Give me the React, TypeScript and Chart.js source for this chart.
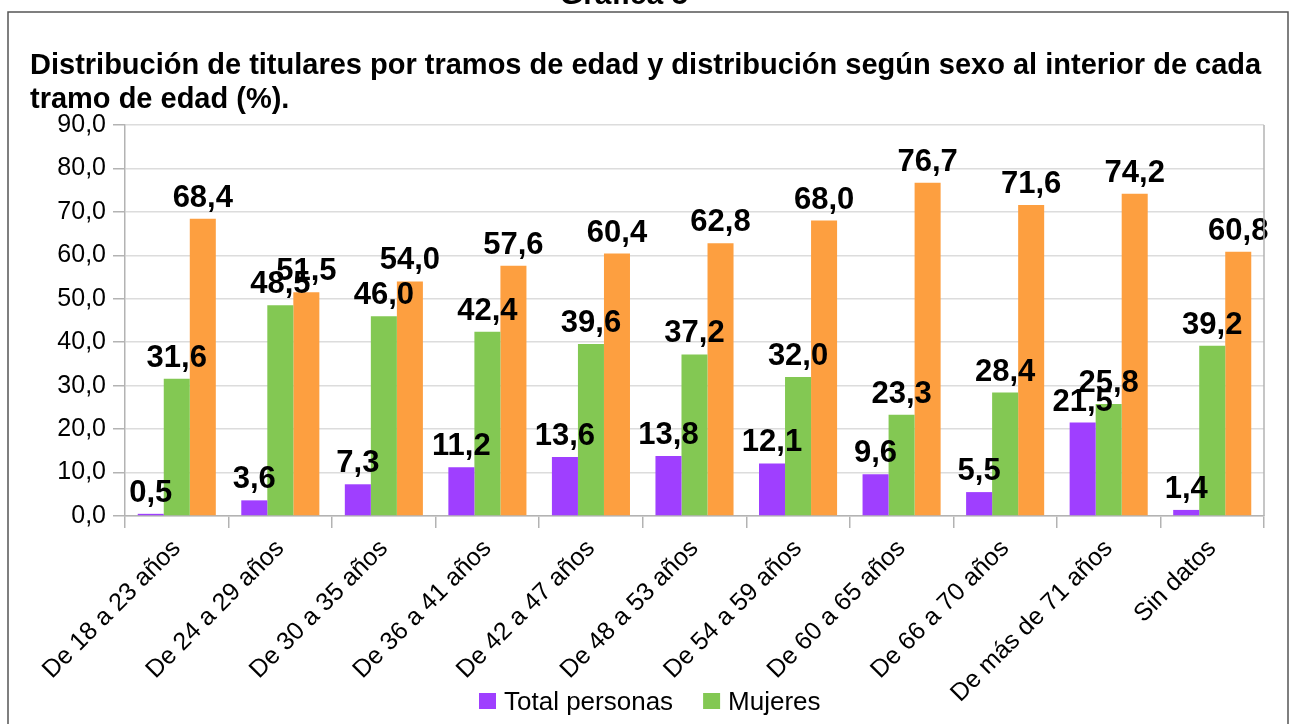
import React, { useEffect, useRef } from "react";
import { Chart, registerables } from "chart.js";

Chart.register(...registerables);

const categories = [
  "De 18 a 23 años",
  "De 24 a 29 años",
  "De 30 a 35 años",
  "De 36 a 41 años",
  "De 42 a 47 años",
  "De 48 a 53 años",
  "De 54 a 59 años",
  "De 60 a 65 años",
  "De 66 a 70 años",
  "De más de 71 años",
  "Sin datos",
];
const totalPersonas = [0.5, 3.6, 7.3, 11.2, 13.6, 13.8, 12.1, 9.6, 5.5, 21.5, 1.4];
const mujeres = [31.6, 48.5, 46.0, 42.4, 39.6, 37.2, 32.0, 23.3, 28.4, 25.8, 39.2];
const hombres = [68.4, 51.5, 54.0, 57.6, 60.4, 62.8, 68.0, 76.7, 71.6, 74.2, 60.8];
const seriesNames = ["Total personas", "Mujeres", "Hombres"];
const seriesColors = ["#9f3fff", "#83c853", "#fd9f40"];
const pageTitle = "Gráfica 5";
const titleLines = [
  "Distribución de titulares por tramos de edad y distribución según sexo al interior de cada",
  "tramo de edad (%).",
];

const FONT = "'Liberation Sans', Arial, sans-serif";
const fmt = (v: number) => v.toFixed(1).replace(".", ",");

const decoPlugin = {
  id: "deco",
  beforeDraw(chart: any) {
    const ctx = chart.ctx;
    ctx.save();
    ctx.fillStyle = "#ffffff";
    ctx.fillRect(0, 0, chart.width, chart.height);
    ctx.restore();
  },
  afterDatasetsDraw(chart: any) {
    const ctx = chart.ctx;
    ctx.save();
    ctx.font = `bold 31px ${FONT}`;
    ctx.fillStyle = "#000";
    ctx.textAlign = "center";
    ctx.textBaseline = "alphabetic";
    chart.data.datasets.forEach((ds: any, di: number) => {
      const meta = chart.getDatasetMeta(di);
      meta.data.forEach((bar: any, i: number) => {
        ctx.fillText(fmt(ds.data[i]), bar.x, bar.y - 12);
      });
    });
    ctx.restore();
  },
  afterDraw(chart: any) {
    const ctx = chart.ctx;
    const area = chart.chartArea;
    ctx.save();
    ctx.strokeStyle = "#b3b3b3";
    ctx.lineWidth = 1.5;
    ctx.beginPath();
    ctx.moveTo(area.right, area.top);
    ctx.lineTo(area.right, area.bottom);
    ctx.stroke();
    ctx.strokeStyle = "#555";
    ctx.lineWidth = 1.5;
    ctx.strokeRect(8, 12, 1280, 800);
    ctx.fillStyle = "#000";
    ctx.font = `bold 30px ${FONT}`;
    ctx.textAlign = "center";
    ctx.fillText(pageTitle, 624, 4);
    ctx.textAlign = "left";
    ctx.font = `bold 29px ${FONT}`;
    ctx.fillText(titleLines[0], 30, 74);
    ctx.fillText(titleLines[1], 30, 108);
    ctx.font = `26px ${FONT}`;
    let x = 479;
    for (let k = 0; k < 2; k++) {
      ctx.fillStyle = seriesColors[k];
      ctx.fillRect(x, 693, 17, 16);
      ctx.fillStyle = "#000";
      ctx.fillText(seriesNames[k], x + 25, 710);
      x += 25 + ctx.measureText(seriesNames[k]).width + 30;
    }
    ctx.restore();
  },
};

export default function App() {
  const ref = useRef<HTMLCanvasElement>(null);
  useEffect(() => {
    if (!ref.current) return;
    const chart = new Chart(ref.current, {
      type: "bar",
      data: {
        labels: categories,
        datasets: [totalPersonas, mujeres, hombres].map((d, i) => ({
          label: seriesNames[i],
          data: d,
          backgroundColor: seriesColors[i],
          borderWidth: 0,
          categoryPercentage: 0.754,
          barPercentage: 1.0,
        })),
      },
      options: {
        responsive: false,
        animation: false,
        layout: { padding: { top: 125, right: 31, left: 0, bottom: 0 } },
        plugins: {
          legend: { display: false },
          title: { display: false },
          tooltip: { enabled: false },
        },
        scales: {
          x: {
            afterFit: (s: any) => {
              s.height = 208;
            },
            grid: {
              drawOnChartArea: false,
              drawTicks: true,
              tickLength: 12,
              color: "#b3b3b3",
              lineWidth: 1.5,
            },
            border: { color: "#b3b3b3", width: 1.5 },
            ticks: {
              minRotation: 45,
              maxRotation: 45,
              color: "#000",
              font: { family: FONT, size: 25 },
              padding: 6,
              autoSkip: false,
            },
          },
          y: {
            min: 0,
            max: 90,
            afterFit: (s: any) => {
              s.width = 125;
            },
            ticks: {
              stepSize: 5,
              color: "#000",
              font: { family: FONT, size: 25 },
              padding: 7,
              callback: (v: any) => (Number(v) % 10 === 0 ? fmt(Number(v)) : ""),
            },
            grid: {
              color: "#dcdcdc",
              lineWidth: 1.5,
              tickLength: 12,
              tickColor: (c: any) =>
                c.tick && c.tick.value % 10 === 0 ? "#b3b3b3" : "rgba(0,0,0,0)",
            },
            border: { color: "#b3b3b3", width: 1.5 },
          },
        },
      },
      plugins: [decoPlugin],
    });
    return () => chart.destroy();
  }, []);
  return (
    <canvas
      ref={ref}
      width={1295}
      height={724}
      style={{ position: "fixed", left: 0, top: 0, width: 1295, height: 724 }}
    />
  );
}
